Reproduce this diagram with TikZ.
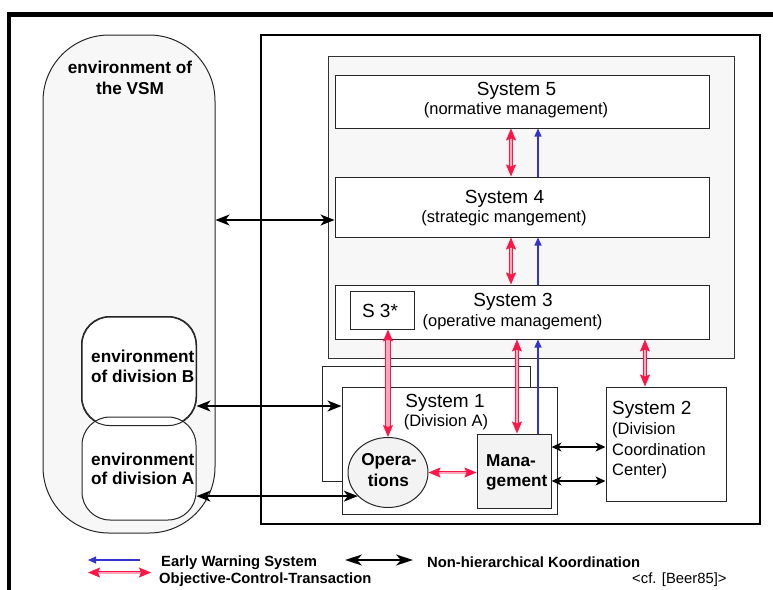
\documentclass[tikz,border=0pt]{standalone}
\usepackage{fontspec}
\setmainfont{Liberation Sans}
\usetikzlibrary{arrows.meta,shapes.geometric,calc}

\definecolor{ocred}{RGB}{255,22,70}
\definecolor{ocpink}{RGB}{255,165,185}
\definecolor{ewblue}{RGB}{52,52,205}
\definecolor{panel}{RGB}{247,247,247}
\definecolor{unitfill}{RGB}{243,243,243}

\tikzset{
  box/.style={rectangle, draw=black!85, line width=1pt, fill=white, inner sep=0pt},
  envbig/.style={rectangle, draw=black!85, line width=1pt, fill=panel, inner sep=0pt, rounded corners=66pt},
  envsub/.style={rectangle, draw=black!85, line width=1pt, fill=white, inner sep=0pt, rounded corners=28pt},
  title/.style={anchor=base, inner sep=0pt, font=\fontsize{19}{22}\selectfont},
  sub/.style={anchor=base, inner sep=0pt, font=\fontsize{16.5}{20}\selectfont},
  boldlbl/.style={anchor=base, inner sep=0pt, font=\bfseries\fontsize{17.2}{20}\selectfont},
  legend/.style={anchor=base west, inner sep=0pt, font=\bfseries\fontsize{14.8}{17}\selectfont},
  blk/.style={line width=1.4pt, {Stealth[length=14pt,width=11pt,inset=4pt]}-{Stealth[length=14pt,width=11pt,inset=4pt]}},
  blksmall/.style={line width=1.3pt, {Stealth[length=10pt,width=9pt,inset=3pt]}-{Stealth[length=10pt,width=9pt,inset=3pt]}},
  ocarrow/.style={draw=ocred, line width=0.9pt, double=ocpink, double distance=2pt,
    {Stealth[length=12pt,width=10pt,inset=2pt]}-{Stealth[length=12pt,width=10pt,inset=2pt]}},
  ewarrow/.style={draw=ewblue, line width=1.2pt, -{Triangle[length=8pt,width=7pt]}}
}

\begin{document}
\begin{tikzpicture}[x=1pt,y=-1pt]
\useasboundingbox (0,0) rectangle (773,589);

% heavy outer frame (runs off the page at right and bottom)
\draw[line width=4.5pt] (9,600) -- (9,14.5) -- (790,14.5);

% environment
\node[envbig, minimum width=172pt, minimum height=498pt] (envvsm) at (129,284) {};
\node[envsub, minimum width=114pt, minimum height=108pt] (envB) at (139,371) {};
\node[envsub, minimum width=114pt, minimum height=103pt] (envA) at (139,468.5) {};
\draw[draw=black!85, line width=1pt, rounded corners=28pt] (envB.south west) rectangle (envB.north east);

\node[boldlbl] (envvsmA) at (130,73) {environment of};
\node[boldlbl] (envvsmB) at (130,94) {the VSM};
\node[boldlbl, anchor=base west] (envBa) at (91,362) {environment};
\node[boldlbl, anchor=base west] (envBb) at (91,382) {of division B};
\node[boldlbl, anchor=base west] (envAa) at (91,465) {environment};
\node[boldlbl, anchor=base west] (envAb) at (91,484) {of division A};

% the viable system
\node[box, line width=1.4pt, draw=black, minimum width=499pt, minimum height=489pt] (sysframe) at (510.5,279.5) {};
\node[box, fill=panel, draw=black!80, minimum width=406pt, minimum height=302pt] (meta) at (531,207) {};

\node[box, minimum width=374pt, minimum height=53pt] (s5) at (522,101.5) {};
\node[box, minimum width=374pt, minimum height=60pt] (s4) at (522,207) {};
\node[box, minimum width=374pt, minimum height=54pt] (s3) at (522,312) {};
\node[box, minimum width=64pt, minimum height=38pt] (s3star) at (382,310) {};

\node[title] (s5a) at (516.5,95) {System 5};
\node[sub]   (s5b) at (516,114) {(normative management)};
\node[title] (s4a) at (504.5,203) {System 4};
\node[sub]   (s4b) at (504,222) {(strategic mangement)};
\node[title] (s3a) at (513,306) {System 3};
\node[sub]   (s3b) at (512.5,326) {(operative management)};
\node[title] (s3c) at (380,317) {S 3*};

% operational units
\node[box, minimum width=208pt, minimum height=115pt] (s1back) at (426,423.5) {};
\node[box, minimum width=215pt, minimum height=127pt] (s1) at (449.5,450.5) {};
\node[title] (s1a) at (445,407) {System 1};
\node[sub]   (s1b) at (446,426) {(Division A)};

\node[ellipse, draw=black!85, line width=1pt, fill=unitfill, minimum width=80pt, minimum height=70pt, inner sep=0pt] (ops) at (388,472.5) {};
\node[boldlbl] (opsa) at (389,465) {Opera-};
\node[boldlbl] (opsb) at (388.5,486) {tions};

\node[box, fill=unitfill, minimum width=74pt, minimum height=74pt] (mgmt) at (514,471) {};
\node[boldlbl, anchor=base west] (mgmta) at (486,466) {Mana-};
\node[boldlbl, anchor=base west] (mgmtb) at (486,486) {gement};

\node[box, minimum width=120pt, minimum height=114pt] (s2) at (666,444) {};
\node[title, anchor=base west] (s2a) at (612,414) {System 2};
\node[sub, anchor=base west] (s2b) at (612,434) {(Division};
\node[sub, anchor=base west] (s2c) at (612,455) {Coordination};
\node[sub, anchor=base west] (s2d) at (612,475) {Center)};

% attachment points on the box borders
\coordinate (s4in)   at ($(s4.west)+(0,13)$);
\coordinate (s1in)   at ($(s1.west)+(0,-44.5)$);
\coordinate (mgmtoA) at ($(mgmt.east)+(0,-24)$);
\coordinate (mgmtoB) at ($(mgmt.east)+(0,10)$);
\coordinate (s5ocr)  at ($(s5.south)+(-11,0)$);
\coordinate (s4ocrT) at ($(s4.north)+(-11,0)$);
\coordinate (s4ocrB) at ($(s4.south)+(-11,0)$);
\coordinate (s3ocr)  at ($(s3.north)+(-11,0)$);
\coordinate (s5ew)   at ($(s5.south)+(16,0)$);
\coordinate (s4ewT)  at ($(s4.north)+(16,0)$);
\coordinate (s4ewB)  at ($(s4.south)+(16,0)$);
\coordinate (s3ew)   at ($(s3.north)+(16,0)$);
\coordinate (mgmtoc) at ($(mgmt.north)+(3,0)$);
\coordinate (mgmtew) at ($(mgmt.north)+(24,0)$);
\coordinate (s2oc)   at ($(s2.north)+(-21,0)$);

% non-hierarchical coordination
\draw[blk] (envvsm.east |- s4in) -- (s4in);
\draw[blk] (envB.east |- s1in) -- (s1in);
\draw[blk] (envA.east |- ops.218) -- (ops.218);
\draw[blksmall] (mgmtoA) -- (s2.west |- mgmtoA);
\draw[blksmall] (mgmtoB) -- (s2.west |- mgmtoB);

% objective-control-transactions
\draw[ocarrow] (s5ocr) -- (s4ocrT);
\draw[ocarrow] (s4ocrB) -- (s3ocr);
\draw[ocarrow, double distance=3.5pt] (ops.north |- s3star.south) -- (ops.north);
\draw[ocarrow] (mgmtoc |- s3.south) -- (mgmtoc);
\draw[ocarrow] (s2oc |- s3.south) -- (s2oc);
\draw[ocarrow] (ops.east) -- (mgmt.west |- ops.east);

% early warning
\draw[ewarrow] (s4ewT) -- (s5ew);
\draw[ewarrow] (s3ew) -- (s4ewB);
\draw[ewarrow] (mgmtew) -- (mgmtew |- s3.south);

% legend
\coordinate (lgEwA) at (140,560);
\coordinate (lgEwB) at (88,560);
\coordinate (lgOcA) at (88,572.5);
\coordinate (lgOcB) at (151,572.5);
\coordinate (lgNhA) at (345,560);
\coordinate (lgNhB) at (413,560);
\draw[ewarrow, line width=1.1pt] (lgEwA) -- (lgEwB);
\draw[ocarrow] (lgOcA) -- (lgOcB);
\draw[blk, {Stealth[length=17pt,width=11pt,inset=5pt]}-{Stealth[length=17pt,width=11pt,inset=5pt]}] (lgNhA) -- (lgNhB);
\node[legend] (lgEw) at (161,566) {Early Warning System};
\node[legend] (lgOc) at (159,583) {Objective-Control-Transaction};
\node[legend] (lgNh) at (427,567) {Non-hierarchical Koordination};
\node[anchor=base west, inner sep=0pt, font=\fontsize{14.8}{17}\selectfont] (cite) at (632,583) {<cf. [Beer85]>};
\end{tikzpicture}
\end{document}
